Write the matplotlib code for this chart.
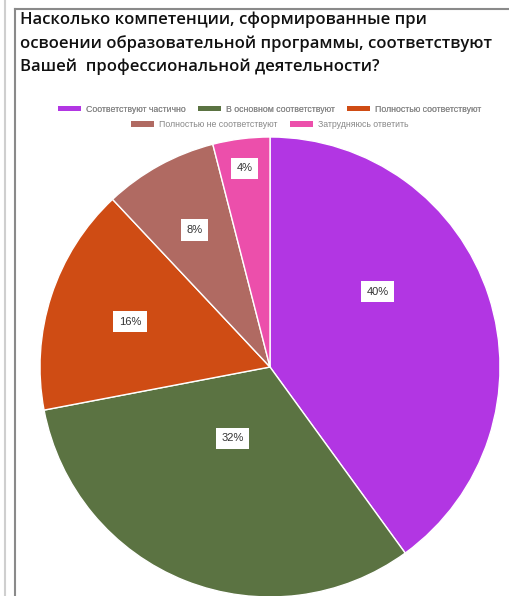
import numpy as np
import matplotlib.pyplot as plt
from matplotlib.lines import Line2D
from matplotlib.patches import Patch

title = ("Насколько компетенции, сформированные при\n"
         "освоении образовательной программы, соответствуют\n"
         "Вашей  профессиональной деятельности?")
categories = ["Соответствуют частично", "В основном соответствуют",
              "Полностью соответствуют", "Полностью не соответствуют",
              "Затрудняюсь ответить"]
shares = [40, 32, 16, 8, 4]
colors = ["#b236e3", "#5b7342", "#cf4c14", "#b06a62", "#ec4fab"]
# where google put each label: fraction of the radius, and a nudge in degrees
label_r = [0.57, 0.35, 0.64, 0.68, 0.87]
label_nudge = [17, -6, 0, 0, 0]

W, H = 510, 596
fig = plt.figure(figsize=(W / 100, H / 100), dpi=100)
plt.rcParams['font.family'] = ['Open Sans', 'DejaVu Sans']

# frame lines of the page around the chart
fig.add_artist(Line2D([5.5 / W, 5.5 / W], [0, 1], color="#cfcfcf", lw=1.5))
fig.add_artist(Line2D([15 / W, 15 / W], [0, 1 - 8.5 / H], color="#8a8a8a", lw=1.5))
fig.add_artist(Line2D([15 / W, 1], [1 - 8.5 / H, 1 - 8.5 / H], color="#8a8a8a", lw=1.5))

fig.text(20 / W, 1 - 12 / H, title, ha="left", va="top", fontsize=12.0,
         fontweight="semibold", color="#111111", linespacing=1.5)

# pie
cx, cy, r = 270, 367, 230
ax = fig.add_axes([(cx - r) / W, (H - cy - r) / H, 2 * r / W, 2 * r / H])
wedges, _ = ax.pie(shares, colors=colors, startangle=90, counterclock=False,
                   wedgeprops=dict(edgecolor="white", linewidth=1))
ax.set_xlim(-1, 1)
ax.set_ylim(-1, 1)
ax.set_aspect("equal")
ax.axis("off")

for w, s, k, nudge in zip(wedges, shares, label_r, label_nudge):
    mid = np.deg2rad((w.theta1 + w.theta2) / 2 + nudge)
    ax.text(k * np.cos(mid), k * np.sin(mid), f"{s}%", ha="center", va="center",
            fontsize=8, color="#333333", family=["Arial", "Liberation Sans", "DejaVu Sans"],
            bbox=dict(boxstyle="square,pad=0.5", facecolor="white", edgecolor="none"))

# legend, two centred rows
handles = [Patch(facecolor=c, edgecolor="none") for c in colors]
leg_kw = dict(frameon=False, handlelength=2.6, handleheight=0.6, handletextpad=0.6,
              columnspacing=1.4, prop=dict(family=["Liberation Sans", "DejaVu Sans"], size=6.3),
              labelcolor="#888888", loc="center", borderaxespad=0)
leg1 = fig.legend(handles[:3], categories[:3], ncol=3,
                  bbox_to_anchor=(270 / W, 1 - 109 / H), **leg_kw)
fig.legend(handles[3:], categories[3:], ncol=2,
           bbox_to_anchor=(270 / W, 1 - 124.5 / H), **leg_kw)
fig.add_artist(leg1)

fig.savefig("out.png", dpi=100)
